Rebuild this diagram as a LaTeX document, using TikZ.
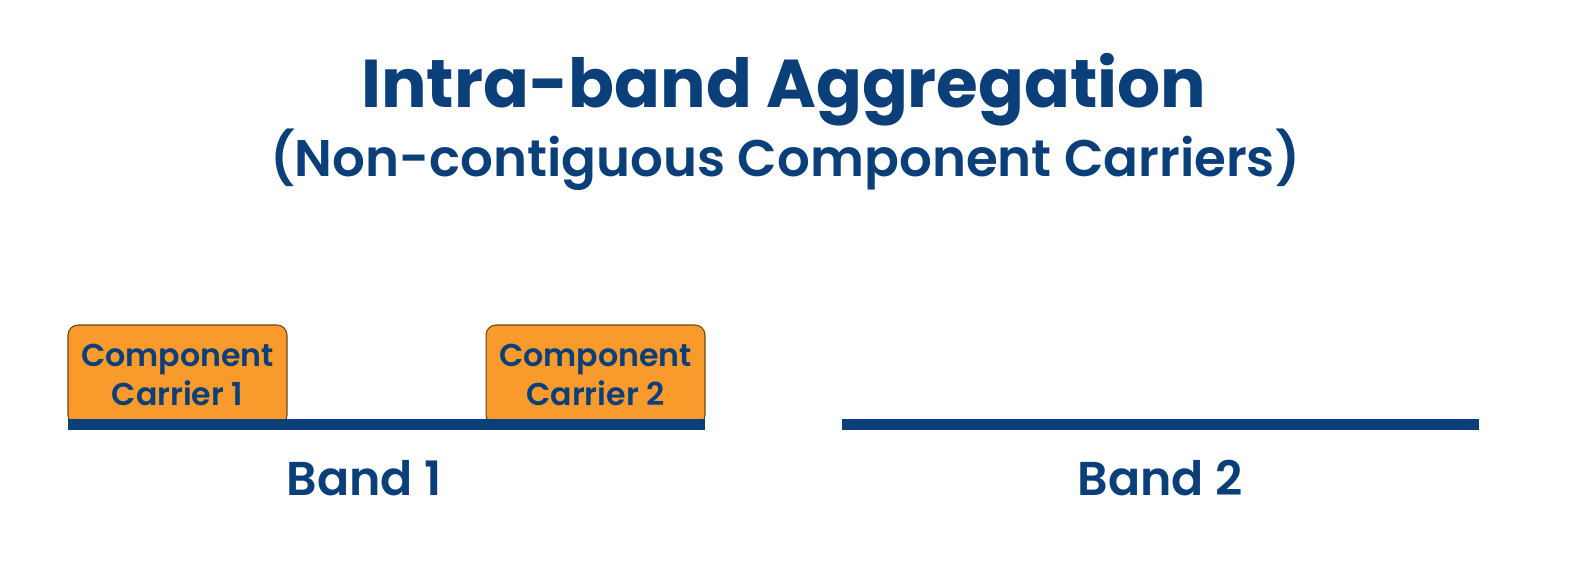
\documentclass[tikz,border=0pt]{standalone}
\usepackage{fontspec}
\setmainfont{Poppins}[BoldFont={Poppins SemiBold}]
\newfontfamily\headfont{Poppins Bold}
\usetikzlibrary{positioning}
\definecolor{navy}{HTML}{0B3F7A}
\definecolor{ccorange}{HTML}{F99A2C}
\tikzset{
  carrier/.style={draw=black!55!ccorange, line width=0.6pt, fill=ccorange, rounded corners=0.2cm,
    minimum width=4.38cm, minimum height=2.0cm, inner sep=0pt, align=center, text=navy,
    font=\fontsize{18}{22}\selectfont\bfseries},
  bandline/.style={fill=navy, inner sep=0pt, minimum width=12.74cm, minimum height=0.22cm},
  bandlabel/.style={text=navy, font=\fontsize{27}{32}\selectfont\bfseries}
}
\begin{document}
\begin{tikzpicture}[x=0.02cm,y=-0.02cm]
  \useasboundingbox[fill=white] (0,0) rectangle (1572,570);

  \node[text=navy, font=\fontsize{38.5}{46}\selectfont\headfont] (title) at (784,90) {Intra-band Aggregation};
  \node[text=navy, font=\fontsize{29.3}{34}\selectfont\bfseries] (subtitle) at (785,160) {(Non-contiguous Component Carriers)};

  \node[carrier] (cc1) at (177.5,375) {Component\\Carrier 1};
  \node[carrier] (cc2) at (595.5,375) {Component\\Carrier 2};

  \node[bandline] (band1) at (386.5,424.5) {};
  \node[bandline] (band2) at (1160.5,424.5) {};

  \node[bandlabel] (lab1) at (364,478) {Band 1};
  \node[bandlabel] (lab2) at (1160,478) {Band 2};
\end{tikzpicture}
\end{document}
